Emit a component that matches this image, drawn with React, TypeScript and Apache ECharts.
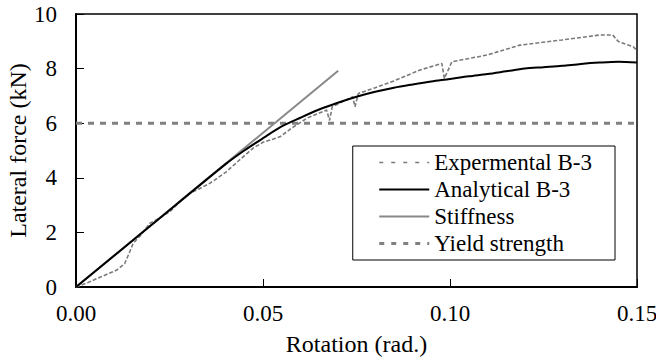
import React, { useEffect, useRef } from "react";
import * as echarts from "echarts";

const xTicks = [0, 0.05, 0.1, 0.15];
const yTicks = [0, 2, 4, 6, 8, 10];

const experimentalRot = [0, 0.003, 0.0046, 0.008, 0.0109, 0.013, 0.0144, 0.0153, 0.017, 0.0198, 0.022, 0.0251, 0.028, 0.0305, 0.033, 0.0358, 0.04, 0.0447, 0.0474, 0.05, 0.0545, 0.058, 0.0617, 0.067, 0.0678, 0.0685, 0.074, 0.0746, 0.0755, 0.08, 0.085, 0.092, 0.0978, 0.0985, 0.1005, 0.11, 0.1187, 0.13, 0.14, 0.1435, 0.145, 0.149, 0.15];
const experimentalForce = [0, 0.15, 0.25, 0.45, 0.62, 0.85, 1.3, 1.61, 1.85, 2.34, 2.5, 2.76, 3.15, 3.44, 3.6, 3.8, 4.2, 4.77, 5.09, 5.3, 5.5, 5.85, 6.18, 6.48, 6.1, 6.6, 6.97, 6.6, 7.09, 7.3, 7.55, 7.95, 8.19, 7.64, 8.25, 8.5, 8.86, 9.05, 9.23, 9.23, 8.99, 8.8, 8.66];

const analyticalRot = [0, 0.02, 0.04, 0.045, 0.05, 0.055, 0.06, 0.065, 0.07, 0.075, 0.08, 0.085, 0.09, 0.095, 0.1, 0.105, 0.11, 0.115, 0.12, 0.125, 0.13, 0.135, 0.14, 0.145, 0.15];
const analyticalForce = [0, 2.25, 4.5, 5.0, 5.45, 5.88, 6.2, 6.5, 6.75, 6.97, 7.15, 7.3, 7.42, 7.53, 7.62, 7.72, 7.8, 7.9, 8.0, 8.05, 8.1, 8.17, 8.22, 8.25, 8.22];

const stiffnessRot = [0, 0.0701];
const stiffnessForce = [0, 7.92];

const yieldRot = [0, 0.15];
const yieldForce = [6, 6];

const zip = (a: number[], b: number[]) => a.map((v, i) => [v, b[i]]);

const FONT = "Liberation Serif";

export default function App() {
  const ref = useRef<HTMLDivElement>(null);
  useEffect(() => {
    if (!ref.current) return;
    const chart = echarts.init(ref.current, undefined, { renderer: "svg" });
    chart.setOption({
      animation: false,
      backgroundColor: "#fff",
      textStyle: { fontFamily: FONT },
      grid: {
        left: 76,
        right: 19,
        top: 14,
        bottom: 74,
        containLabel: false,
        outerBoundsMode: "none",
        show: true,
        borderColor: "#000",
        borderWidth: 1.5,
      },
      legend: {
        orient: "vertical",
        right: 41,
        top: 146,
        backgroundColor: "#fff",
        borderColor: "#000",
        borderWidth: 1,
        borderRadius: 0,
        padding: [5, 23, 5, 25],
        itemGap: 4,
        itemWidth: 50,
        itemHeight: 14,
        itemStyle: { opacity: 0 },
        textStyle: { fontFamily: FONT, fontSize: 23, lineHeight: 23, color: "#000" },
        data: [
          { name: "Expermental B-3", lineStyle: { color: "#7a7a7a", width: 1.5, type: [4, 8] } },
          { name: "Analytical B-3" },
          { name: "Stiffness" },
          { name: "Yield strength", lineStyle: { color: "#808080", width: 3, type: [5, 7] } },
        ],
      },
      xAxis: {
        type: "value",
        min: 0,
        max: 0.15,
        interval: 0.05,
        name: "Rotation (rad.)",
        nameLocation: "middle",
        nameGap: 45,
        nameMoveOverlap: false,
        nameTextStyle: { fontFamily: FONT, fontSize: 24, color: "#000" },
        axisLine: { show: true, lineStyle: { color: "#000", width: 2 } },
        axisTick: { show: true, inside: true, length: 8, lineStyle: { color: "#000", width: 1 } },
        axisLabel: {
          fontFamily: FONT,
          fontSize: 23,
          color: "#000",
          margin: 15,
          formatter: (v: number) => (xTicks.some((t) => Math.abs(t - v) < 1e-9) ? v.toFixed(2) : ""),
        },
        splitLine: { show: false },
      },
      yAxis: {
        type: "value",
        min: 0,
        max: 10,
        interval: 2,
        name: "Lateral force (kN)",
        nameLocation: "middle",
        nameGap: 46,
        nameMoveOverlap: false,
        nameRotate: 90,
        nameTextStyle: { fontFamily: FONT, fontSize: 24, color: "#000" },
        axisLine: { show: true, lineStyle: { color: "#000", width: 2 } },
        axisTick: { show: true, inside: true, length: 8, lineStyle: { color: "#000", width: 1 } },
        axisLabel: {
          fontFamily: FONT,
          fontSize: 23,
          color: "#000",
          margin: 19,
          formatter: (v: number) => (yTicks.includes(v) ? String(v) : ""),
        },
        splitLine: { show: false },
      },
      series: [
        {
          name: "Expermental B-3",
          type: "line",
          data: zip(experimentalRot, experimentalForce),
          symbol: "none",
          z: 3,
          lineStyle: { color: "#7a7a7a", width: 1.6, type: [4, 2] },
          itemStyle: { color: "#7a7a7a" },
        },
        {
          name: "Analytical B-3",
          type: "line",
          data: zip(analyticalRot, analyticalForce),
          symbol: "none",
          smooth: 0.3,
          z: 4,
          lineStyle: { color: "#000", width: 2 },
          itemStyle: { color: "#000" },
        },
        {
          name: "Stiffness",
          type: "line",
          data: zip(stiffnessRot, stiffnessForce),
          symbol: "none",
          z: 2,
          lineStyle: { color: "#888888", width: 2 },
          itemStyle: { color: "#888888" },
        },
        {
          name: "Yield strength",
          type: "line",
          data: zip(yieldRot, yieldForce),
          symbol: "none",
          z: 1,
          lineStyle: { color: "#808080", width: 3, type: [6, 6] },
          itemStyle: { color: "#808080" },
        },
      ],
    });
    return () => chart.dispose();
  }, []);
  return <div ref={ref} style={{ width: 656, height: 361, position: "absolute", left: 0, top: 0 }} />;
}
